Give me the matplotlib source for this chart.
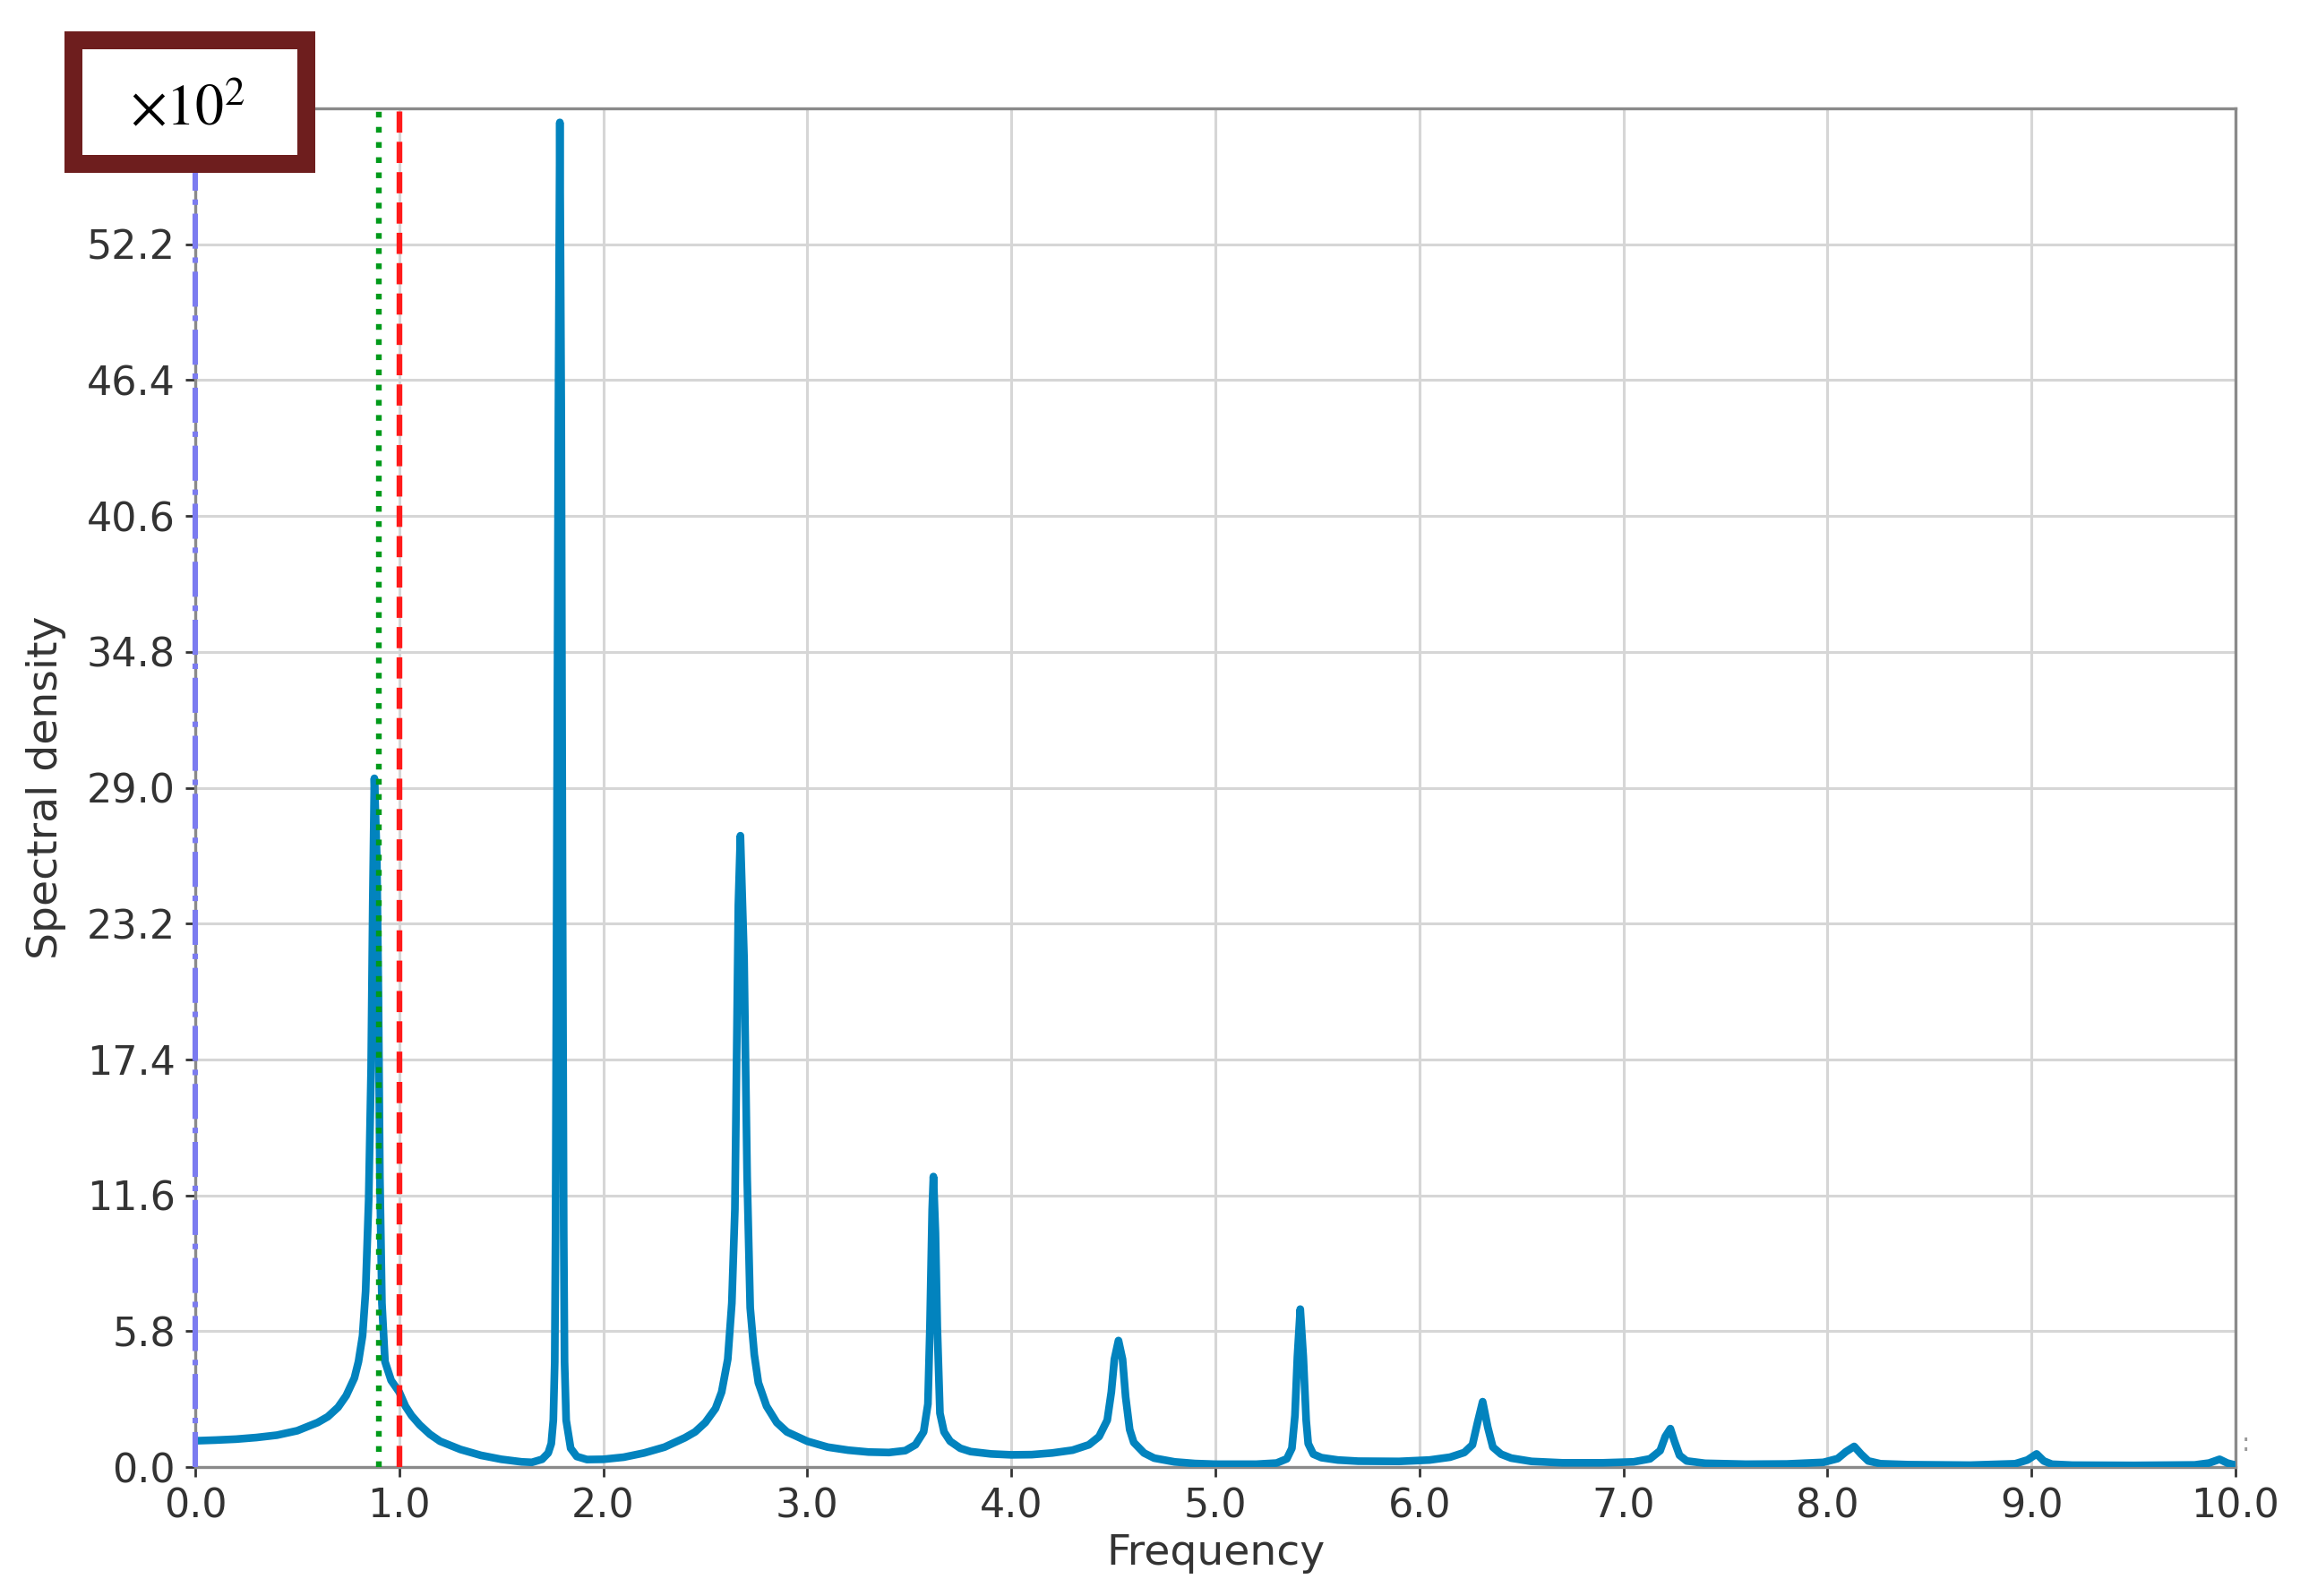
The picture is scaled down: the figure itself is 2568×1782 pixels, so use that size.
import matplotlib
matplotlib.use("Agg")
import matplotlib.pyplot as plt
from matplotlib.patches import Rectangle

# ---- data (densities in units of 10^2) ----
freq = [0.00, 0.10, 0.20, 0.30, 0.40, 0.50, 0.60, 0.65, 0.70, 0.74, 0.78,
        0.80, 0.82, 0.835, 0.850, 0.862, 0.870, 0.878, 0.890, 0.898, 0.905,
        0.915, 0.930, 0.960, 1.00, 1.03, 1.06, 1.10, 1.15, 1.20, 1.30,
        1.40, 1.50, 1.60, 1.65, 1.70, 1.73, 1.745, 1.755, 1.762,
        1.766, 1.772, 1.780, 1.787, 1.794, 1.800, 1.806, 1.810, 1.818, 1.84,
        1.87, 1.92, 2.00, 2.10, 2.20, 2.30, 2.40, 2.45, 2.50, 2.55,
        2.58, 2.61, 2.63, 2.645, 2.655, 2.662, 2.672, 2.690, 2.705, 2.72,
        2.74, 2.76, 2.80, 2.85, 2.90, 3.00, 3.10, 3.20, 3.30, 3.40,
        3.48, 3.53, 3.57, 3.591, 3.601, 3.612, 3.618, 3.628, 3.637, 3.65,
        3.67, 3.70, 3.75, 3.80, 3.90, 4.00, 4.10, 4.20, 4.30, 4.38,
        4.43, 4.47, 4.49, 4.505, 4.525, 4.545, 4.56, 4.58, 4.60, 4.65,
        4.70, 4.80, 4.90, 5.00, 5.20, 5.30, 5.35, 5.375, 5.39, 5.402,
        5.416, 5.431, 5.445, 5.455, 5.48, 5.52, 5.60, 5.70, 5.90, 6.05,
        6.15, 6.22, 6.26, 6.285, 6.31, 6.335, 6.36, 6.40, 6.45, 6.55,
        6.70, 6.90, 7.05, 7.13, 7.18, 7.205, 7.23, 7.25, 7.275, 7.31,
        7.40, 7.60, 7.80, 7.98, 8.05, 8.09, 8.131, 8.165, 8.20, 8.26,
        8.40, 8.70, 8.92, 8.98, 9.025, 9.06, 9.10, 9.20, 9.50, 9.80,
        9.87, 9.922, 9.96, 10.0]
density = [1.12, 1.15, 1.19, 1.26, 1.36, 1.55, 1.90, 2.15, 2.55, 3.05, 3.80,
           4.50, 5.60, 7.50, 11.4, 17.0, 24.0, 29.4, 26.0, 20.0, 12.4,
           7.0, 4.5, 3.7, 3.2, 2.6, 2.2, 1.8, 1.4, 1.1, 0.75,
           0.50, 0.33, 0.22, 0.20, 0.33, 0.60, 1.0, 2.0, 4.5,
           10.0, 25.0, 45.0, 57.4, 45.0, 25.0, 10.0, 4.5, 2.0, 0.80,
           0.45, 0.32, 0.33, 0.42, 0.60, 0.85, 1.25, 1.50, 1.90, 2.50,
           3.20, 4.60, 7.00, 11.0, 18.5, 24.0, 26.95, 21.7, 12.4, 6.8,
           4.8, 3.6, 2.6, 1.9, 1.5, 1.1, 0.85, 0.72, 0.64, 0.62,
           0.70, 0.95, 1.50, 2.69, 6.0, 11.0, 12.4, 10.0, 6.0, 2.3,
           1.5, 1.1, 0.80, 0.66, 0.56, 0.52, 0.53, 0.60, 0.72, 0.95,
           1.3, 2.0, 3.2, 4.6, 5.4, 4.6, 3.0, 1.6, 1.05, 0.60,
           0.38, 0.22, 0.15, 0.12, 0.12, 0.17, 0.35, 0.80, 2.2, 4.7,
           6.74, 4.7, 2.0, 1.0, 0.55, 0.40, 0.30, 0.25, 0.24, 0.30,
           0.42, 0.62, 0.95, 1.9, 2.79, 1.7, 0.85, 0.55, 0.38, 0.24,
           0.18, 0.18, 0.22, 0.35, 0.70, 1.30, 1.64, 1.10, 0.50, 0.26,
           0.16, 0.12, 0.13, 0.20, 0.36, 0.65, 0.88, 0.55, 0.26, 0.14,
           0.10, 0.08, 0.14, 0.30, 0.56, 0.26, 0.12, 0.08, 0.07, 0.09,
           0.17, 0.33, 0.17, 0.08]

x_ticks = [0.0, 1.0, 2.0, 3.0, 4.0, 5.0, 6.0, 7.0, 8.0, 9.0, 10.0]
y_ticks = [0.0, 5.8, 11.6, 17.4, 23.2, 29.0, 34.8, 40.6, 46.4, 52.2]
y_top = 58.0
x_label = "Frequency"
y_label = "Spectral density"
scale_text = r"$\times10^{2}$"
line_left = 0.0     # purple dash-dot marker
line_green = 0.9    # green dotted marker
line_red = 1.0      # red dashed marker

plt.rcParams['font.family'] = ['DejaVu Sans']
plt.rcParams['mathtext.fontset'] = 'stix'

fig = plt.figure(figsize=(12.84, 8.91), dpi=200)
ax = fig.add_axes([218/2568, 1 - 1638/1782, (2496-218)/2568, (1638-121)/1782])

ax.plot(freq, density, color='#0283be', lw=3.1, solid_joinstyle='round', zorder=3)
ax.axvline(line_left, color='#7b7bf0', ls='-.', lw=2.2, clip_on=False, zorder=4)
ax.axvline(line_green, color='#009a1a', ls=':', lw=2.3, zorder=4)
ax.axvline(line_red, color='#ff1a1a', ls='--', lw=2.3, zorder=4)

ax.set_xlim(0, 10)
ax.set_ylim(0, y_top)
ax.set_xticks(x_ticks)
ax.set_yticks(y_ticks)
ax.set_xticklabels([f"{v:.1f}" for v in x_ticks])
ax.set_yticklabels([f"{v:.1f}" for v in y_ticks])
ax.tick_params(axis='both', labelsize=16, colors='#333333', length=4, width=1,
               pad=4)
ax.grid(True, color='#d6d6d6', lw=1.1)
ax.set_axisbelow(True)
for s in ax.spines.values():
    s.set_color('#8a8a8a')
    s.set_linewidth(1.2)
ax.set_xlabel(x_label, fontsize=17, color='#333333', labelpad=3)
ax.set_ylabel(y_label, fontsize=17, color='#333333', labelpad=8)

# boxed scale factor
x0, x1, y0, y1 = 82, 342, 45, 183
rect = Rectangle((x0/2568, 1 - y1/1782), (x1-x0)/2568, (y1-y0)/1782,
                 transform=fig.transFigure, facecolor='white',
                 edgecolor='#6e1e1e', lw=7.2, zorder=10, joinstyle='miter')
fig.patches.append(rect)
fig.text(210/2568, 1 - 122/1782, scale_text, fontsize=23, ha='center',
         va='center', color='black', zorder=11)

fig.text(2507/2568, 1 - 1612/1782, ":", fontsize=10, color='#999999',
         ha='center', va='center')

fig.savefig("out.png", dpi=200)
